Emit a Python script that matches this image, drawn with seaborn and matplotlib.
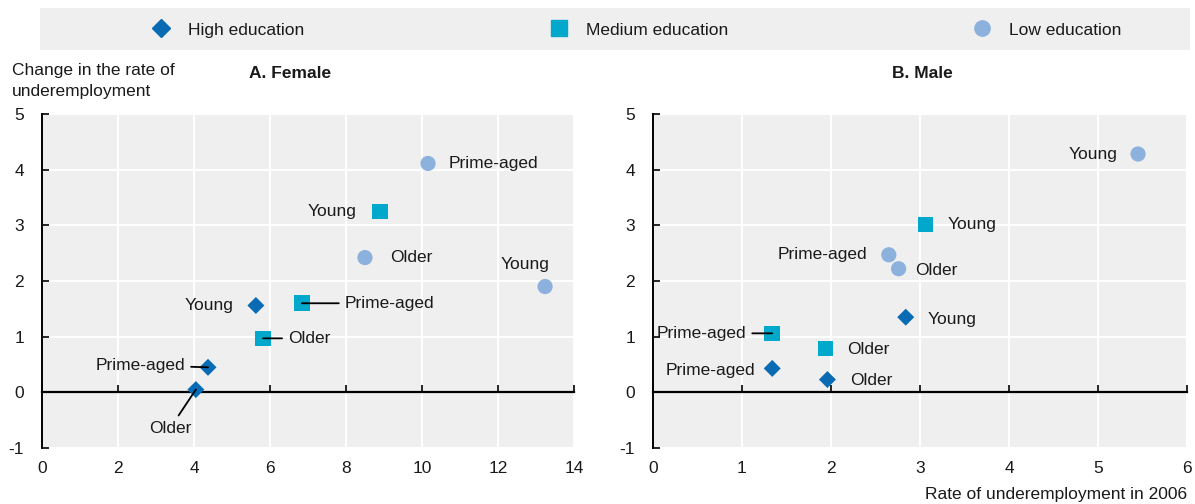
import matplotlib
matplotlib.use("Agg")
import pandas as pd
import matplotlib.pyplot as plt
import seaborn as sns
from matplotlib.lines import Line2D
from matplotlib.patches import Rectangle

# data
edu = ["High", "High", "High", "Medium", "Medium", "Medium", "Low", "Low", "Low"]
age = ["Young", "Prime-aged", "Older"] * 3
female_x = [5.63, 4.37, 4.05, 8.89, 6.84, 5.82, 13.24, 10.16, 8.50]
female_y = [1.56, 0.45, 0.05, 3.25, 1.60, 0.97, 1.90, 4.11, 2.42]
male_x = [2.84, 1.34, 1.96, 3.06, 1.34, 1.94, 5.45, 2.65, 2.76]
male_y = [1.35, 0.43, 0.23, 3.01, 1.06, 0.79, 4.28, 2.47, 2.22]
legend_labels = ["High education", "Medium education", "Low education"]

colors = {"High": "#0A6BB5", "Medium": "#00A9CB", "Low": "#8DB1DD"}
markers = {"High": "D", "Medium": "s", "Low": "o"}
sizes = {"High": 75, "Medium": 125, "Low": 120}

# label placement (pixel offsets, alignment, leader line) in the same order
female_lab = [(-22, 0, "right", False), (-23, 2, "right", True), (-26, -39, "center", True),
              (-23, 0, "right", False), (43, 0, "left", True), (25, 0, "left", True),
              (-20, 22, "center", False), (21, 0, "left", False), (25, 0, "left", False)]
male_lab = [(22, -2, "left", False), (-17, -2, "right", False), (23, -1, "left", False),
            (22, 0, "left", False), (-26, 0, "right", True), (22, -1, "left", False),
            (-21, 0, "right", False), (-22, 0, "right", False), (17, -2, "left", False)]

sns.set_style("darkgrid", {"axes.facecolor": "#EFEFEF", "grid.color": "white"})
plt.rcParams["font.family"] = ["Liberation Sans", "DejaVu Sans"]
plt.rcParams["font.size"] = 12
plt.rcParams["axes.unicode_minus"] = False
tc = "#1a1a1a"

fig = plt.figure(figsize=(11.95, 5.04), dpi=100)
fig.patch.set_facecolor("white")
ax1 = fig.add_axes([0.0351, 0.111, 0.4452, 0.663])
ax2 = fig.add_axes([0.5464, 0.111, 0.4469, 0.663])


def panel(ax, xs, ys, labs, xmax, xstep):
    df = pd.DataFrame({"x": xs, "y": ys, "edu": edu, "age": age})
    sns.scatterplot(data=df, x="x", y="y", hue="edu", style="edu", size="edu",
                    palette=colors, markers=markers, sizes=sizes,
                    linewidth=0, legend=False, ax=ax, zorder=5)
    for i in range(len(df)):
        dx, dy, ha, line = labs[i]
        kw = {}
        if line:
            kw["arrowprops"] = dict(arrowstyle="-", color="black", lw=1.3,
                                    shrinkA=2, shrinkB=0)
        ax.annotate(df.age[i], (df.x[i], df.y[i]), xytext=(dx, dy),
                    textcoords="offset pixels", ha=ha, va="center",
                    fontsize=12.5, color=tc, zorder=6, **kw)
    ax.set_xlim(0, xmax)
    ax.set_ylim(-1, 5)
    ticks = list(range(0, xmax + 1, xstep))
    ax.set_xticks(ticks)
    ax.set_yticks(range(-1, 6))
    ax.set_xlabel("")
    ax.set_ylabel("")
    ax.grid(True, color="white", lw=1.5)
    for s in ["top", "right", "bottom"]:
        ax.spines[s].set_visible(False)
    ax.spines["left"].set_visible(True)
    ax.spines["left"].set_color("black")
    ax.spines["left"].set_linewidth(1.4)
    ax.spines["left"].set_zorder(4)
    ax.tick_params(axis="y", left=True, direction="in", length=5, width=1.2,
                   color="black", pad=13, labelsize=12.5, labelcolor=tc)
    ax.tick_params(axis="x", bottom=False, pad=6, labelsize=12.5, labelcolor=tc)
    # x axis line drawn at zero, above the white grid
    sec = ax.secondary_xaxis(1 / 6)
    sec.set_zorder(3)
    sec.set_xticks(ticks)
    sec.tick_params(direction="in", length=5, width=1.2, color="black",
                    labelbottom=False, labeltop=False)
    sec.spines["bottom"].set_color("black")
    sec.spines["bottom"].set_linewidth(1.6)


panel(ax1, female_x, female_y, female_lab, 14, 2)
panel(ax2, male_x, male_y, male_lab, 6, 1)

# titles and axis labels
fig.text(290 / 1195, 1 - 73 / 504, "A. Female", ha="center", va="center",
         fontweight="bold", fontsize=12.5, color=tc)
fig.text(922 / 1195, 1 - 73 / 504, "B. Male", ha="center", va="center",
         fontweight="bold", fontsize=12.5, color=tc)
fig.text(12 / 1195, 1 - 63 / 504, "Change in the rate of\nunderemployment",
         ha="left", va="top", fontsize=12.5, color=tc, linespacing=1.5)
fig.text(1187 / 1195, 1 - 494 / 504, "Rate of underemployment in 2006",
         ha="right", va="center", fontsize=12.5, color=tc)

# legend band on top
fig.patches.append(Rectangle((40 / 1195, 1 - 50 / 504), 1150 / 1195, 42 / 504,
                             transform=fig.transFigure, facecolor="#EFEFEF",
                             edgecolor="none", zorder=0))
keys = ["High", "Medium", "Low"]
handles = [Line2D([], [], ls="", marker=markers[k], color=colors[k],
                  markersize={"High": 9, "Medium": 11, "Low": 11}[k]) for k in keys]
fig.legend(handles, legend_labels, loc="center", bbox_to_anchor=(635 / 1195, 1 - 30 / 504),
           ncol=3, frameon=False, fontsize=12.5, handlelength=1.5, handletextpad=0.8,
           columnspacing=13.9, labelcolor=tc)

fig.savefig("out.png", dpi=100)
